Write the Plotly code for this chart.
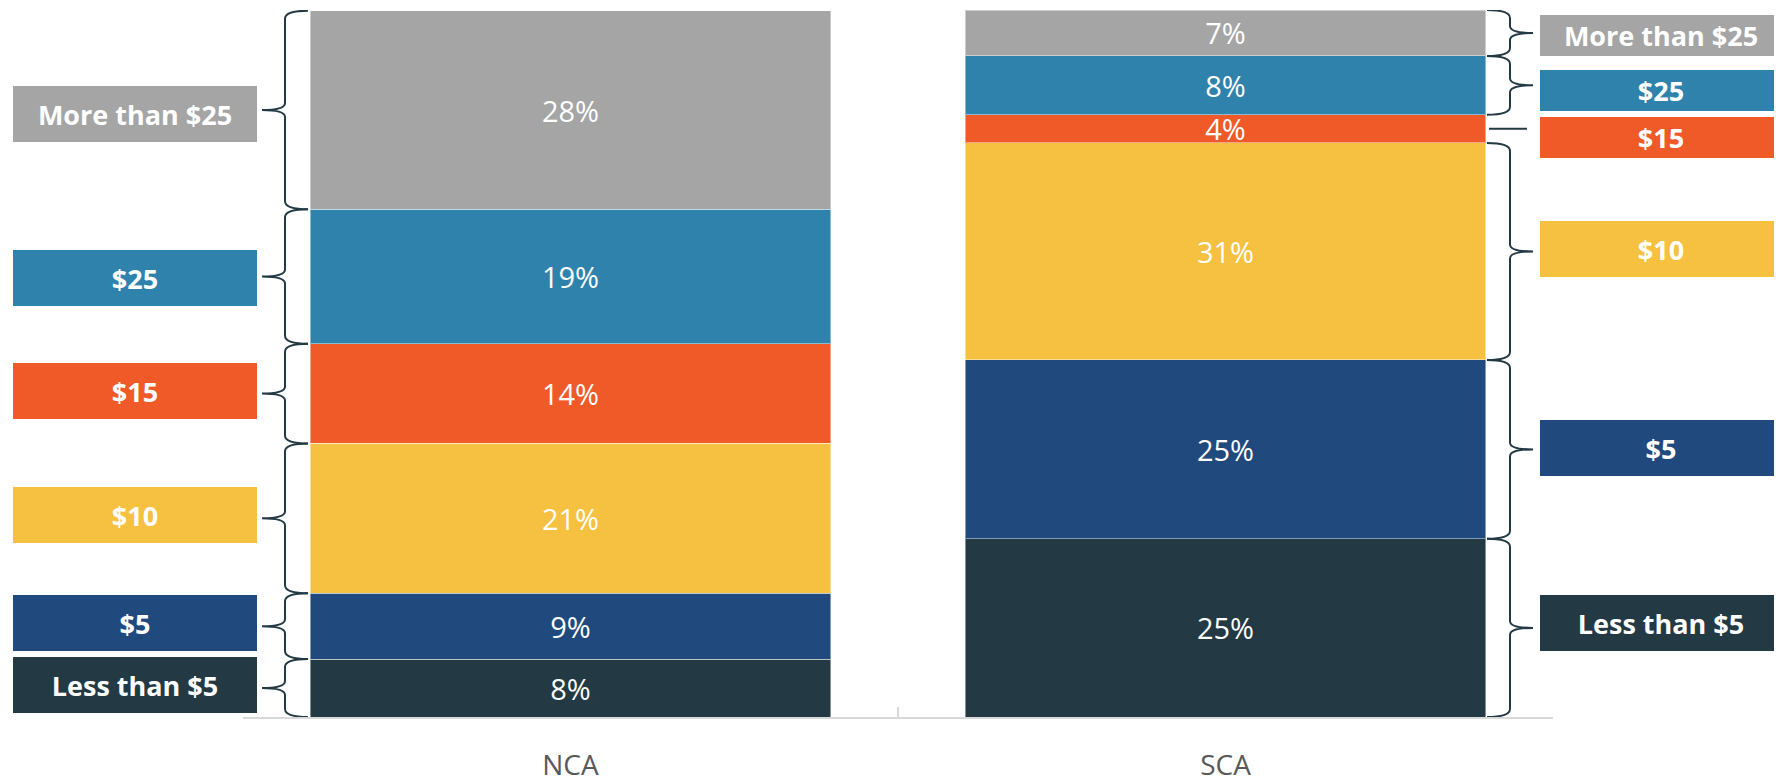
import plotly.graph_objects as go

# stacked from bottom to top
categories = ["NCA", "SCA"]
series_names = ["Less than $5", "$5", "$10", "$15", "$25", "More than $25"]
nca_values = [8.2, 9.3, 21.2, 14.1, 19.0, 28.1]
sca_values = [25.2, 25.3, 30.7, 4.0, 8.3, 6.5]
nca_labels = ["8%", "9%", "21%", "14%", "19%", "28%"]
sca_labels = ["25%", "25%", "31%", "4%", "8%", "7%"]

colors = ["#233944", "#204A7D", "#F6C141", "#F05A28", "#2F82AC", "#A5A5A5"]
brace_color = "#233944"

# page has an 8px body margin, so the figure is drawn 8px in from the corner
OFF = 8
W, H = 1782 - OFF, 782 - OFF
ML, MR, MT, MB = 243 - OFF, 229, 10 - OFF, 65
PW = W - ML - MR
PH = H - MT - MB
Y_MAX = 100


def px_x(p):
    # page pixel x -> paper x
    return (p - OFF - ML) / PW


def px_dy(p):
    # pixel height -> data units
    return p * Y_MAX / PH


fig = go.Figure()
for i, name in enumerate(series_names):
    fig.add_trace(go.Bar(
        x=categories,
        y=[nca_values[i], sca_values[i]],
        name=name,
        text=[nca_labels[i], sca_labels[i]],
        textposition="inside",
        insidetextanchor="middle",
        textangle=0,
        textfont=dict(color="white", size=29, family="Open Sans"),
        marker=dict(color=colors[i], line=dict(color="rgba(255,255,255,0.45)", width=1)),
        width=0.794,
        hoverinfo="skip",
    ))


def brace_path(xe, xs, xt, ytop, ybot):
    re_, rt = px_dy(8), px_dy(7)
    ym = (ytop + ybot) / 2
    xe, xs, xt = px_x(xe), px_x(xs), px_x(xt)
    return (f"M {xe},{ytop} Q {xs},{ytop} {xs},{ytop - re_} "
            f"L {xs},{ym + rt} Q {xs},{ym} {xt},{ym} "
            f"Q {xs},{ym} {xs},{ym - rt} "
            f"L {xs},{ybot + re_} Q {xs},{ybot} {xe},{ybot}")


shapes = []
annotations = []

# label box layout: (yshift in px, box height)
nca_box = [(3, 56), (3, 56), (3, 56), (3, 56), (-1, 56), (-3.5, 56)]
sca_box = [(5, 56), (1, 56), (2.5, 56), (-8.5, 41), (-5, 41), (-2.5, 41)]

for side, values, boxes in [("left", nca_values, nca_box), ("right", sca_values, sca_box)]:
    base = 0
    for i, v in enumerate(values):
        ybot, ytop = base, base + v
        base = ytop
        ym = (ybot + ytop) / 2
        if side == "left":
            xe, xs, xt = 308, 285, 262
            bx, bw = 135, 244
        else:
            xe, xs, xt = 1487, 1510, 1533
            bx, bw = 1661, 242
        if v < 5:
            shapes.append(dict(type="line", xref="paper", yref="y",
                               x0=px_x(1489), x1=px_x(1527), y0=ym, y1=ym,
                               line=dict(color=brace_color, width=2)))
        else:
            shapes.append(dict(type="path", xref="paper", yref="y",
                               path=brace_path(xe, xs, xt, ytop, ybot),
                               line=dict(color=brace_color, width=2)))
        shift, bh = boxes[i]
        annotations.append(dict(
            xref="paper", yref="y", x=px_x(bx), y=ym, yshift=shift,
            xanchor="center", yanchor="middle",
            text=f"<b>{series_names[i]}</b>", showarrow=False,
            width=bw, height=bh, bgcolor=colors[i], borderpad=0, borderwidth=0,
            align="center", valign="middle",
            font=dict(color="white", size=27, family="Open Sans"),
        ))

fig.update_layout(
    width=W, height=H,
    margin=dict(l=ML, r=MR, t=MT, b=MB),
    barmode="stack",
    showlegend=False,
    plot_bgcolor="white",
    paper_bgcolor="white",
    shapes=shapes,
    annotations=annotations,
    uniformtext=dict(mode="show", minsize=29),
    xaxis=dict(
        showline=True, linecolor="#D9D9D9", linewidth=2,
        ticks="inside", tickson="boundaries", ticklen=10, tickwidth=2,
        tickcolor="#D9D9D9", ticklabelstandoff=22, automargin=False,
        tickfont=dict(size=28, color="#595959", family="Open Sans"),
        showgrid=False,
    ),
    yaxis=dict(visible=False, range=[0, Y_MAX], showgrid=False, automargin=False),
)

fig.write_html("out.html")
